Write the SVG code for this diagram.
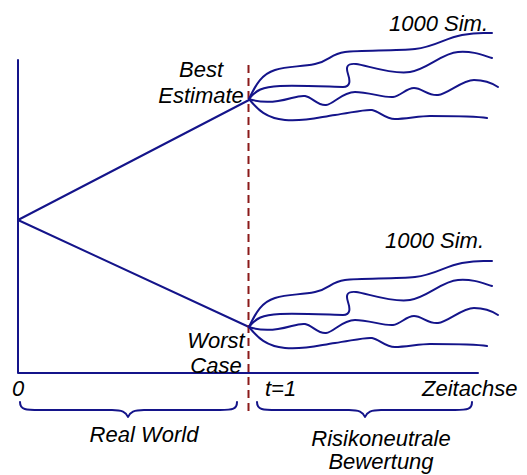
<svg xmlns="http://www.w3.org/2000/svg" width="527" height="475" viewBox="0 0 527 475">
<style>
.ln{fill:none;stroke:#14148a;stroke-width:2;stroke-linecap:round;stroke-linejoin:round}
.dash{fill:none;stroke:#8b1a1a;stroke-width:2;stroke-dasharray:8 5}
text{font-family:"Liberation Sans",Arial,sans-serif;font-style:italic;font-size:22px;fill:#000}
.c{text-anchor:middle}
</style>
<defs>
<g id="sims">
<path class="ln" d="M249,99 C256,84 262,74 275,70 S300,67 315,64 S330,54 345,52 S395,51 415,49 S445,38 462,35 S480,33 492,33"/>
<path class="ln" d="M249,99 C256,90 262,87 280,86 S335,87 343,87 S350,80 348,74 S346,63 356,64 S392,75 410,72 S442,53 458,52 S482,55 492,58"/>
<path class="ln" d="M249,99 C258,102 265,103 278,101 S298,95 305,96 S318,106 326,105 S342,92 355,92 S385,98 393,97 S406,88 414,88 S428,96 438,95 S462,80 474,80 S492,83 498,87"/>
<path class="ln" d="M249,99 C258,110 266,118 285,120 S320,117 335,115 S365,109 372,110 S385,119 395,119 S420,116 430,116 S475,116 487,118"/>
</g>
</defs>
<g id="axes">
<path class="ln" d="M18,60 L18,373 L478,373"/>
</g>
<g id="connectors">
<path class="ln" d="M18,220 L249,100"/>
<path class="ln" d="M18,220 L249,327"/>
<line class="dash" x1="248.5" y1="65" x2="248.5" y2="412"/>
</g>
<g id="best-estimate">
<use href="#sims"/>
<text class="c" x="201" y="77">Best</text>
<text class="c" x="201" y="103">Estimate</text>
<text x="389" y="31">1000 Sim.</text>
</g>
<g id="worst-case">
<use href="#sims" transform="translate(0,228)"/>
<text class="c" x="216" y="348">Worst</text>
<text class="c" x="216" y="373">Case</text>
<text x="385" y="248">1000 Sim.</text>
</g>
<g id="time-axis">
<text x="12" y="396">0</text>
<text x="265" y="396">t=1</text>
<text x="422" y="396">Zeitachse</text>
</g>
<g id="real-world">
<path class="ln" d="M20,402 C20,410 26,410 40,410 L112,410 C122,410 126,412 128,417 C130,412 134,410 144,410 L220,410 C233,410 237,409 237,402"/>
<text class="c" x="144" y="442">Real World</text>
</g>
<g id="risikoneutral">
<path class="ln" d="M257,402 C257,410 263,410 277,410 L349,410 C359,410 363,412 365,417 C367,412 371,410 381,410 L455,410 C468,410 472,409 472,402"/>
<text class="c" x="381" y="446">Risikoneutrale</text>
<text class="c" x="381" y="469">Bewertung</text>
</g>
</svg>
